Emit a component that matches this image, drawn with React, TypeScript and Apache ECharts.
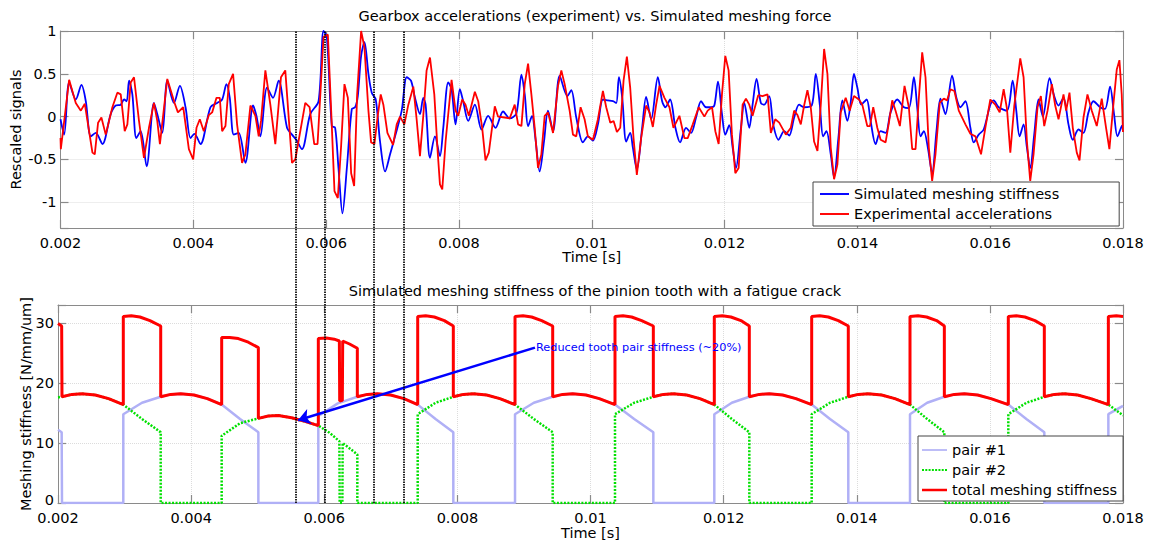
import React, { useEffect, useRef } from "react";
import * as echarts from "echarts";

// ---------- data (time in milliseconds, shown on the axis in seconds) ----------
const simulatedSignal: [number, number][] = [
  [2.0,-0.03],[2.055,-0.21],[2.130,0.40],[2.230,0.20],[2.316,0.37],[2.381,0.18],[2.456,-0.23],[2.531,-0.19],[2.631,-0.32],[2.756,0.03],[2.831,0.13],[2.907,0.14],[2.957,0.20],[2.997,0.18],[3.032,0.42],[3.082,0.26],[3.142,-0.25],[3.207,-0.17],[3.297,-0.58],[3.407,0.16],[3.457,0.03],[3.533,-0.19],[3.608,0.42],[3.708,0.16],[3.798,0.36],[3.883,0.11],[3.958,-0.25],[4.018,-0.20],[4.108,-0.32],[4.258,0.11],[4.359,0.16],[4.434,0.20],[4.499,0.38],[4.549,0.22],[4.609,-0.21],[4.684,-0.19],[4.784,-0.54],[4.900,0.13],[4.950,0.01],[5.010,-0.23],[5.110,0.34],[5.200,0.22],[5.285,0.42],[5.411,-0.13],[5.486,-0.21],[5.551,-0.27],[5.636,-0.38],[5.761,0.03],[5.886,0.18],[5.961,1.00],[6.011,0.93],[6.086,-0.11],[6.136,-0.13],[6.186,-0.60],[6.246,-1.13],[6.312,-0.60],[6.387,0.09],[6.437,0.11],[6.477,0.24],[6.527,0.71],[6.577,0.87],[6.637,0.50],[6.687,0.28],[6.747,0.20],[6.812,-0.29],[6.888,-0.64],[6.963,-0.44],[7.038,-0.23],[7.138,0.07],[7.213,0.46],[7.278,0.42],[7.338,0.22],[7.413,0.03],[7.463,0.22],[7.498,0.14],[7.564,-0.48],[7.639,-0.23],[7.714,-0.46],[7.764,-0.13],[7.839,0.40],[7.889,0.32],[7.949,-0.09],[8.014,0.32],[8.064,0.18],[8.140,-0.05],[8.240,0.14],[8.340,-0.15],[8.440,0.01],[8.550,-0.13],[8.665,0.06],[8.765,-0.02],[8.866,0.04],[8.941,0.49],[8.991,0.26],[9.041,-0.11],[9.101,0.01],[9.151,-0.25],[9.216,-0.64],[9.281,-0.29],[9.341,0.07],[9.417,-0.17],[9.517,0.48],[9.632,0.24],[9.692,0.31],[9.767,-0.01],[9.867,-0.30],[9.942,-0.23],[10.018,-0.28],[10.093,-0.09],[10.168,0.20],[10.243,0.19],[10.319,0.18],[10.369,0.16],[10.409,0.46],[10.459,0.22],[10.519,-0.29],[10.579,-0.19],[10.619,-0.36],[10.679,-0.62],[10.759,-0.13],[10.819,0.23],[10.895,-0.03],[10.995,0.46],[11.060,0.18],[11.110,0.11],[11.180,0.20],[11.260,-0.13],[11.330,-0.30],[11.420,-0.13],[11.495,-0.19],[11.571,-0.01],[11.646,0.18],[11.721,0.11],[11.796,0.11],[11.846,0.13],[11.901,0.41],[11.961,0.03],[12.011,-0.21],[12.071,-0.10],[12.122,-0.36],[12.172,-0.60],[12.247,-0.13],[12.297,0.16],[12.372,-0.13],[12.422,0.14],[12.482,0.44],[12.547,0.16],[12.597,0.14],[12.672,0.24],[12.732,-0.09],[12.813,-0.27],[12.898,-0.17],[12.973,-0.22],[13.048,-0.01],[13.123,0.14],[13.198,0.11],[13.313,0.13],[13.374,0.50],[13.434,0.14],[13.484,-0.23],[13.534,-0.17],[13.599,-0.44],[13.649,-0.71],[13.714,-0.25],[13.774,0.19],[13.849,-0.05],[13.899,0.16],[13.949,0.50],[13.999,0.34],[14.059,0.14],[14.139,0.20],[14.199,-0.05],[14.275,-0.32],[14.350,-0.17],[14.425,-0.19],[14.500,0.05],[14.600,0.20],[14.700,0.11],[14.775,0.10],[14.851,0.46],[14.901,0.11],[14.951,-0.23],[15.001,-0.17],[15.061,-0.36],[15.126,-0.66],[15.191,-0.17],[15.251,0.21],[15.326,0.03],[15.426,0.48],[15.491,0.22],[15.552,0.11],[15.627,0.18],[15.702,-0.13],[15.752,-0.30],[15.827,-0.21],[15.902,-0.15],[16.002,0.14],[16.052,0.19],[16.128,0.11],[16.253,0.07],[16.338,0.42],[16.393,0.07],[16.443,-0.23],[16.503,-0.09],[16.553,-0.36],[16.603,-0.60],[16.663,-0.21],[16.728,0.20],[16.794,0.00],[16.894,0.45],[16.964,0.24],[17.029,0.13],[17.104,0.22],[17.179,-0.09],[17.244,-0.27],[17.329,-0.15],[17.405,-0.19],[17.480,0.05],[17.555,0.18],[17.655,0.11],[17.730,0.09],[17.805,0.35],[17.865,0.03],[17.916,-0.23],[17.981,-0.11],[18.0,-0.10]
];

const experimentalSignal: [number, number][] = [
  [2.0,-0.25],[2.005,-0.38],[2.130,0.43],[2.230,0.16],[2.306,0.07],[2.366,0.15],[2.481,-0.42],[2.516,-0.44],[2.566,-0.07],[2.616,-0.01],[2.681,-0.21],[2.781,0.11],[2.856,0.28],[2.907,0.26],[2.967,-0.17],[3.007,-0.09],[3.057,0.40],[3.107,0.46],[3.182,-0.05],[3.257,-0.48],[3.332,-0.13],[3.407,0.16],[3.457,-0.05],[3.497,-0.32],[3.608,0.44],[3.718,0.16],[3.768,0.05],[3.848,0.11],[3.933,-0.38],[3.998,-0.50],[4.048,-0.13],[4.098,-0.03],[4.158,-0.17],[4.234,0.02],[4.284,0.05],[4.349,0.22],[4.399,0.22],[4.434,-0.17],[4.484,-0.11],[4.534,0.38],[4.599,0.50],[4.659,-0.09],[4.734,-0.54],[4.784,-0.44],[4.860,0.13],[4.935,0.01],[4.985,-0.23],[5.020,-0.05],[5.085,0.54],[5.160,0.14],[5.235,-0.32],[5.320,0.46],[5.385,0.54],[5.486,-0.54],[5.536,-0.50],[5.686,0.16],[5.751,0.11],[5.821,-0.32],[5.871,-0.32],[5.961,0.93],[6.026,0.96],[6.076,0.07],[6.126,-0.87],[6.176,-0.95],[6.226,-0.34],[6.276,0.38],[6.327,0.22],[6.377,-0.66],[6.422,-0.81],[6.467,0.26],[6.527,1.00],[6.577,0.81],[6.637,0.07],[6.677,-0.30],[6.727,-0.32],[6.777,0.01],[6.822,0.26],[6.862,0.14],[6.923,-0.19],[7.008,-0.33],[7.063,-0.09],[7.113,0.00],[7.178,-0.09],[7.238,0.14],[7.313,0.35],[7.363,-0.03],[7.413,-0.46],[7.463,0.01],[7.513,0.54],[7.564,0.69],[7.629,0.26],[7.679,-0.40],[7.714,-0.79],[7.749,-0.85],[7.799,-0.29],[7.889,0.43],[7.949,0.07],[7.989,0.01],[8.049,0.20],[8.099,0.14],[8.149,0.01],[8.240,0.29],[8.290,0.18],[8.350,-0.13],[8.400,-0.51],[8.450,-0.42],[8.540,0.12],[8.590,0.00],[8.690,-0.01],[8.765,-0.02],[8.840,0.14],[8.891,-0.09],[8.941,-0.11],[8.991,0.38],[9.041,0.62],[9.091,0.26],[9.141,-0.13],[9.191,-0.60],[9.241,-0.44],[9.291,0.01],[9.341,0.05],[9.417,-0.19],[9.492,0.36],[9.542,0.54],[9.592,0.38],[9.667,0.07],[9.717,-0.21],[9.767,-0.23],[9.832,0.11],[9.892,-0.03],[9.942,-0.23],[10.018,-0.27],[10.093,-0.03],[10.168,0.30],[10.218,0.11],[10.279,-0.07],[10.329,-0.05],[10.379,-0.18],[10.429,-0.13],[10.479,0.42],[10.529,0.70],[10.579,0.34],[10.629,-0.25],[10.679,-0.68],[10.744,-0.25],[10.819,0.13],[10.870,0.05],[10.920,-0.12],[10.970,0.14],[11.020,0.36],[11.095,0.22],[11.170,0.11],[11.230,-0.13],[11.320,0.01],[11.395,-0.25],[11.445,-0.25],[11.521,-0.09],[11.611,0.11],[11.696,0.00],[11.746,0.07],[11.811,0.11],[11.861,-0.17],[11.911,-0.32],[11.961,0.26],[12.011,0.71],[12.061,0.54],[12.111,-0.21],[12.162,-0.66],[12.212,-0.60],[12.272,0.14],[12.322,0.21],[12.372,0.14],[12.422,0.01],[12.507,0.25],[12.572,0.24],[12.647,0.26],[12.697,-0.19],[12.763,-0.03],[12.823,-0.07],[12.923,-0.21],[12.998,-0.13],[13.048,0.07],[13.098,0.02],[13.148,-0.09],[13.198,0.13],[13.248,0.31],[13.298,0.11],[13.348,-0.29],[13.399,-0.40],[13.449,0.14],[13.499,0.79],[13.549,0.50],[13.599,-0.36],[13.649,-0.73],[13.699,-0.56],[13.749,0.05],[13.824,0.22],[13.884,0.07],[13.949,0.24],[14.024,0.20],[14.074,0.14],[14.149,-0.11],[14.189,-0.11],[14.239,0.11],[14.300,-0.13],[14.350,-0.27],[14.425,-0.30],[14.475,-0.07],[14.525,0.19],[14.575,0.07],[14.640,-0.11],[14.710,0.36],[14.775,0.11],[14.826,-0.38],[14.876,-0.38],[14.926,0.22],[14.976,0.75],[15.026,0.46],[15.076,-0.36],[15.126,-0.75],[15.176,-0.44],[15.241,0.16],[15.301,0.21],[15.351,0.19],[15.401,0.32],[15.461,0.30],[15.527,0.07],[15.627,-0.09],[15.702,-0.20],[15.777,-0.23],[15.862,-0.44],[15.927,-0.13],[16.002,0.20],[16.077,0.14],[16.143,0.05],[16.203,0.32],[16.253,0.09],[16.303,-0.42],[16.363,0.13],[16.453,0.68],[16.503,0.46],[16.553,-0.29],[16.603,-0.75],[16.653,-0.44],[16.713,0.11],[16.763,0.24],[16.814,-0.11],[16.864,0.07],[16.929,0.38],[16.979,0.13],[17.029,-0.03],[17.104,0.26],[17.144,0.07],[17.194,0.28],[17.244,-0.13],[17.304,-0.42],[17.345,-0.51],[17.405,-0.01],[17.465,0.26],[17.530,0.07],[17.605,-0.11],[17.680,0.21],[17.745,-0.13],[17.795,-0.38],[17.855,0.14],[17.906,0.55],[17.946,0.66],[17.981,0.26],[18.0,-0.18]
];

const pair1Stiffness: [number, number][] = [
  [2.0,12.2],[2.055,11.8],[2.060,0],[2.981,0],[2.981,14.8],[3.262,16.7],[3.543,17.7],[3.693,18.1],[3.843,18.2],[4.043,18.0],[4.243,17.4],[4.459,16.4],[4.735,14.0],[5.010,11.8],[5.010,0],
  [5.911,0],[5.911,14.5],[6.204,16.6],[6.497,17.7],[6.647,18.1],[6.797,18.2],[6.997,18.0],[7.197,17.4],[7.404,16.4],[7.672,14.0],[7.939,11.8],[7.939,0],
  [8.866,0],[8.866,14.8],[9.149,16.7],[9.432,17.7],[9.582,18.1],[9.732,18.2],[9.932,18.0],[10.132,17.4],[10.368,16.4],[10.656,14.0],[10.944,11.8],[10.944,0],
  [11.860,0],[11.860,14.8],[12.123,16.7],[12.386,17.7],[12.536,18.1],[12.686,18.2],[12.886,18.0],[13.086,17.4],[13.323,16.4],[13.598,14.0],[13.873,11.8],[13.873,0],
  [14.800,0],[14.800,14.8],[15.058,16.7],[15.316,17.7],[15.466,18.1],[15.616,18.2],[15.816,18.0],[16.016,17.4],[16.277,16.4],[16.548,14.0],[16.818,11.8],[16.818,0],
  [17.780,0],[17.780,14.8],[18.0,16.2]
];

const pair2Stiffness: [number, number][] = [
  [2.0,17.6],[2.060,17.7],[2.210,18.1],[2.360,18.2],[2.560,18.0],[2.760,17.4],[2.981,16.4],[3.262,14.0],[3.543,11.8],[3.543,0],
  [4.459,0],[4.459,11.2],[4.735,13.3],[5.010,14.1],[5.160,14.5],[5.310,14.6],[5.510,14.2],[5.710,13.6],[5.911,12.9],[6.080,11.7],[6.227,10.3],[6.232,0],[6.272,0],[6.277,10.0],[6.497,8.1],[6.497,0],
  [7.404,0],[7.404,14.8],[7.672,16.7],[7.939,17.7],[8.089,18.1],[8.239,18.2],[8.439,18.0],[8.639,17.4],[8.866,16.4],[9.149,14.0],[9.432,11.8],[9.432,0],
  [10.368,0],[10.368,14.8],[10.656,16.7],[10.944,17.7],[11.094,18.1],[11.244,18.2],[11.444,18.0],[11.644,17.4],[11.860,16.4],[12.123,14.0],[12.386,11.8],[12.386,0],
  [13.323,0],[13.323,14.8],[13.598,16.7],[13.873,17.7],[14.023,18.1],[14.173,18.2],[14.373,18.0],[14.573,17.4],[14.800,16.4],[15.058,14.0],[15.316,11.8],[15.316,0],
  [16.277,0],[16.277,14.8],[16.548,16.7],[16.818,17.7],[16.968,18.1],[17.118,18.2],[17.318,18.0],[17.518,17.4],[17.780,16.4],[18.0,14.6]
];

const totalStiffness: [number, number][] = [
  [2.0,29.9],[2.055,29.5],[2.060,17.7],[2.210,18.1],[2.360,18.2],[2.560,18.0],[2.760,17.4],[2.981,16.4],
  [2.981,31.1],[3.101,31.2],[3.231,31.0],[3.381,30.4],[3.543,29.5],[3.543,17.7],
  [3.693,18.1],[3.843,18.2],[4.043,18.0],[4.243,17.4],[4.459,16.4],
  [4.459,27.6],[4.579,27.6],[4.709,27.4],[4.859,26.8],[5.010,25.9],[5.010,14.1],
  [5.160,14.5],[5.310,14.6],[5.510,14.2],[5.710,13.6],[5.911,12.9],
  [5.911,27.4],[6.031,27.5],[6.150,27.3],[6.227,27.0],[6.232,17.0],[6.272,17.1],[6.277,27.0],[6.380,26.5],[6.497,25.8],[6.497,17.7],
  [6.647,18.1],[6.797,18.2],[6.997,18.0],[7.197,17.4],[7.404,16.4],
  [7.404,31.1],[7.524,31.2],[7.654,31.0],[7.804,30.4],[7.939,29.5],[7.939,17.7],
  [8.089,18.1],[8.239,18.2],[8.439,18.0],[8.639,17.4],[8.866,16.4],
  [8.866,31.1],[8.986,31.2],[9.116,31.0],[9.266,30.4],[9.432,29.5],[9.432,17.7],
  [9.582,18.1],[9.732,18.2],[9.932,18.0],[10.132,17.4],[10.368,16.4],
  [10.368,31.1],[10.488,31.2],[10.618,31.0],[10.768,30.4],[10.944,29.5],[10.944,17.7],
  [11.094,18.1],[11.244,18.2],[11.444,18.0],[11.644,17.4],[11.860,16.4],
  [11.860,31.1],[11.980,31.2],[12.110,31.0],[12.260,30.4],[12.386,29.5],[12.386,17.7],
  [12.536,18.1],[12.686,18.2],[12.886,18.0],[13.086,17.4],[13.323,16.4],
  [13.323,31.1],[13.443,31.2],[13.573,31.0],[13.723,30.4],[13.873,29.5],[13.873,17.7],
  [14.023,18.1],[14.173,18.2],[14.373,18.0],[14.573,17.4],[14.800,16.4],
  [14.800,31.1],[14.920,31.2],[15.050,31.0],[15.200,30.4],[15.316,29.5],[15.316,17.7],
  [15.466,18.1],[15.616,18.2],[15.816,18.0],[16.016,17.4],[16.277,16.4],
  [16.277,31.1],[16.397,31.2],[16.527,31.0],[16.677,30.4],[16.818,29.5],[16.818,17.7],
  [16.968,18.1],[17.118,18.2],[17.318,18.0],[17.518,17.4],[17.780,16.4],
  [17.780,31.1],[17.900,31.2],[18.0,31.1]
];

const markerTimesMs = [5.571, 6.011, 6.737, 7.188];
const annotationFrom: [number, number] = [9.166, 25.9];
const annotationTo: [number, number] = [5.606, 13.8];
const annotationText = "Reduced tooth pair stiffness (~20%)";

const topTitle = "Gearbox accelerations (experiment) vs. Simulated meshing force";
const bottomTitle = "Simulated meshing stiffness of the pinion tooth with a fatigue crack";
const topLegend = ["Simulated meshing stiffness", "Experimental accelerations"];
const bottomLegend = ["pair #1", "pair #2", "total meshing stiffness"];

// ---------- styling ----------
const FONT = "'DejaVu Sans', Verdana, sans-serif";
const FS = 14.5;
const AXIS_GRAY = "#8a8a8a";
const GRID_GRAY = "#dcdcdc";
const BLUE = "#0000ff";
const RED = "#ff0000";
const PALE = "#b0b0f6";
const GREEN = "#00e000";

const LINE_ICON = "path://M0,0h30v2h-30z";
const DOT_ICON =
  "path://M0,0h2v2h-2zM3.3,0h2v2h-2zM6.6,0h2v2h-2zM9.9,0h2v2h-2zM13.2,0h2v2h-2zM16.5,0h2v2h-2zM19.8,0h2v2h-2zM23.1,0h2v2h-2z";

const fmtTime = (v: number) => String(+(v / 1000).toFixed(4));

function mainX(gridIndex: number, nameGap: number) {
  return {
    type: "value", gridIndex, min: 2, max: 18, interval: 2, position: "bottom",
    axisLine: { show: true, onZero: false, lineStyle: { color: AXIS_GRAY, width: 1 } },
    axisTick: { show: true, inside: true, length: 8, lineStyle: { color: AXIS_GRAY, width: 1.2 } },
    axisLabel: { color: "#000", fontSize: FS, fontFamily: FONT, margin: 8, lineHeight: 13, formatter: fmtTime },
    splitLine: { show: true, lineStyle: { color: GRID_GRAY, type: "dotted", width: 1 } },
    name: "Time [s]", nameLocation: "middle", nameGap, nameMoveOverlap: false,
    nameTextStyle: { color: "#000", fontSize: FS, fontFamily: FONT, lineHeight: 15 },
  };
}
function topX(gridIndex: number) {
  return {
    type: "value", gridIndex, min: 2, max: 18, interval: 2, position: "top",
    axisLine: { show: true, onZero: false, lineStyle: { color: AXIS_GRAY, width: 1 } },
    axisTick: { show: true, inside: true, length: 8, lineStyle: { color: AXIS_GRAY, width: 1.2 } },
    axisLabel: { show: false }, splitLine: { show: false },
  };
}
function leftY(gridIndex: number, min: number, max: number, step: number, name: string, nameGap: number, liftMin: boolean) {
  return {
    type: "value", gridIndex, min, max, position: "left",
    interval: min % step === 0 ? step : undefined,
    axisLine: { show: true, onZero: false, lineStyle: { color: AXIS_GRAY, width: 1 } },
    axisTick: { show: true, inside: true, length: 8, lineStyle: { color: AXIS_GRAY, width: 1.2 } },
    axisLabel: {
      color: "#000", fontSize: FS, fontFamily: FONT, margin: 4, lineHeight: 14,
      formatter: (v: number) => {
        if (Math.abs(v / step - Math.round(v / step)) > 1e-6) return "";
        const s = String(+v.toFixed(3));
        return liftMin && v === min ? `{lift|${s}}` : s;
      },
      rich: { lift: { color: "#000", fontSize: FS, fontFamily: FONT, lineHeight: 14, padding: [0, 0, 7, 0] } },
    },
    splitLine: { show: true, lineStyle: { color: GRID_GRAY, type: "dotted", width: 1 } },
    name, nameLocation: "middle", nameGap, nameRotate: 90, nameMoveOverlap: false,
    nameTextStyle: { color: "#000", fontSize: FS, fontFamily: FONT },
  };
}
function rightY(gridIndex: number, min: number, max: number, step: number) {
  return {
    type: "value", gridIndex, min, max, position: "right",
    interval: min % step === 0 ? step : undefined,
    axisLine: { show: true, onZero: false, lineStyle: { color: AXIS_GRAY, width: 1 } },
    axisTick: { show: true, inside: true, length: 8, lineStyle: { color: AXIS_GRAY, width: 1.2 } },
    axisLabel: { show: false }, splitLine: { show: false },
  };
}

const legendBase = {
  orient: "vertical", itemGap: 0, itemHeight: 2.5,
  backgroundColor: "#fff", borderColor: "#444", borderWidth: 1, borderRadius: 0,
  textStyle: { color: "#000", fontSize: FS, fontFamily: FONT, lineHeight: 20 },
};

export default function App() {
  const ref = useRef<HTMLDivElement>(null);
  useEffect(() => {
    document.body.style.margin = "0";
    if (!ref.current) return;
    const chart = echarts.init(ref.current, undefined, { renderer: "svg" });
    chart.setOption({
      animation: false,
      backgroundColor: "#fff",
      title: [
        { text: topTitle, left: 590, top: 3, textAlign: "center",
          textStyle: { fontSize: FS, fontWeight: "normal", color: "#000", fontFamily: FONT } },
        { text: bottomTitle, left: 590, top: 278, textAlign: "center",
          textStyle: { fontSize: FS, fontWeight: "normal", color: "#000", fontFamily: FONT } },
      ],
      grid: [
        { left: 58, top: 31, width: 1065, height: 197 },
        { left: 58, top: 305, width: 1065, height: 198 },
        { left: 58, top: 31, width: 1065, height: 472 },
      ],
      xAxis: [mainX(0, 21), topX(0), mainX(1, 22), topX(1),
        { type: "value", gridIndex: 2, min: 2, max: 18, show: false }],
      yAxis: [
        leftY(0, -1.3, 1, 0.5, "Rescaled signals", 37.5, false), rightY(0, -1.3, 1, 0.5),
        leftY(1, 0, 33, 10, "Meshing stiffness [N/mm/um]", 25, true), rightY(1, 0, 33, 10),
        { type: "value", gridIndex: 2, min: 0, max: 1, show: false },
      ],
      legend: [
        { ...legendBase, left: 813, top: 182, itemWidth: 29, itemHeight: 2, padding: [2, 60, 2, 7],
          data: [{ name: topLegend[0], icon: LINE_ICON }, { name: topLegend[1], icon: LINE_ICON }] },
        { ...legendBase, left: 918, top: 436, itemWidth: 25, padding: [4, 6, 1, 4],
          data: [{ name: bottomLegend[0], icon: LINE_ICON }, { name: bottomLegend[1], icon: DOT_ICON },
            { name: bottomLegend[2], icon: "path://M0,0h30v3h-30z" }] },
      ],
      series: [
        { name: topLegend[0], type: "line", xAxisIndex: 0, yAxisIndex: 0, data: simulatedSignal,
          showSymbol: false, symbol: "none", smooth: 0.3, lineStyle: { color: BLUE, width: 1.8 }, itemStyle: { color: BLUE } },
        { name: topLegend[1], type: "line", xAxisIndex: 0, yAxisIndex: 0, data: experimentalSignal,
          showSymbol: false, symbol: "none", lineStyle: { color: RED, width: 1.8 }, itemStyle: { color: RED } },
        { name: bottomLegend[0], type: "line", xAxisIndex: 2, yAxisIndex: 2, data: pair1Stiffness,
          showSymbol: false, symbol: "none", lineStyle: { color: PALE, width: 2.5 }, itemStyle: { color: PALE } },
        { name: bottomLegend[1], type: "line", xAxisIndex: 2, yAxisIndex: 2, data: pair2Stiffness,
          showSymbol: false, symbol: "none", lineStyle: { color: GREEN, width: 2.5, type: [2, 1.5] }, itemStyle: { color: GREEN } },
        { name: bottomLegend[2], type: "line", xAxisIndex: 2, yAxisIndex: 2, data: totalStiffness,
          showSymbol: false, symbol: "none", lineStyle: { color: RED, width: 3 }, itemStyle: { color: RED } },
        { name: "annotation", type: "line", xAxisIndex: 2, yAxisIndex: 2, data: [], z: 6,
          markLine: { silent: true, symbol: ["none", "arrow"], symbolSize: 12, animation: false,
            lineStyle: { color: BLUE, width: 2.5, type: "solid" }, itemStyle: { color: BLUE }, label: { show: false },
            data: [[{ coord: annotationFrom }, { coord: annotationTo }]] },
          markPoint: { silent: true, symbol: "circle", symbolSize: 0, animation: false,
            label: { show: true, position: "right", distance: 1, formatter: annotationText,
              color: BLUE, fontSize: 11.3, fontFamily: FONT },
            data: [{ coord: annotationFrom }] } },
        { name: "markers", type: "line", xAxisIndex: 4, yAxisIndex: 4, data: [], z: 7,
          markLine: { silent: true, symbol: ["none", "none"], animation: false,
            lineStyle: { color: "#000", width: 1.7, type: [1.5, 1] }, label: { show: false },
            data: markerTimesMs.map((t) => ({ xAxis: t })) } },
      ],
    });
    return () => chart.dispose();
  }, []);
  return <div ref={ref} style={{ width: 1150, height: 545 }} />;
}
